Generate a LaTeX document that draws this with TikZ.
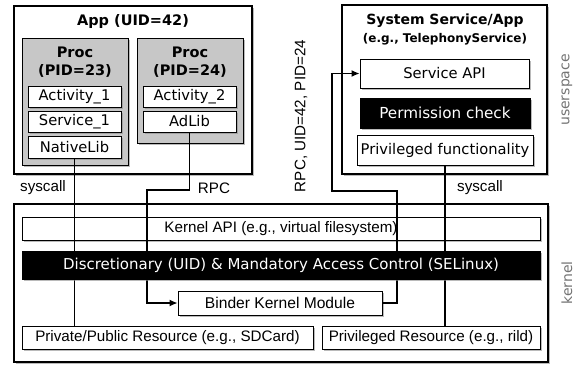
\documentclass[tikz,border=0pt]{standalone}
\usepackage{fontspec}
\setmainfont{DejaVu Sans}
\newfontfamily\arialf{Liberation Sans}
\usetikzlibrary{arrows.meta,shadows}
\begin{document}
\begin{tikzpicture}[x=1pt,y=-1pt,
  box/.style={draw=black, line width=0.8pt, fill=white, inner sep=0pt,
    drop shadow={shadow xshift=1.5pt, shadow yshift=-1.5pt, fill=black!45, opacity=0.6}},
  outer/.style={box, line width=1.3pt},
  procbox/.style={box, fill=black!22},
  blackbox/.style={box, fill=black, text=white},
  lt/.style={font=\fontsize{14.7}{17}\selectfont},
  artxt/.style={font=\arialf\fontsize{15.2}{18}\selectfont},
  ttl/.style={font=\bfseries\fontsize{14.5}{17}\selectfont, inner sep=0pt},
  side/.style={font=\fontsize{14}{17}\selectfont, text=black!55, rotate=90, inner sep=0pt},
  conn/.style={line width=1.4pt},
  arr/.style={conn, -{Latex[length=8pt,width=7pt]}}
]
\useasboundingbox (0,0) rectangle (579,365);
% userspace: app
\node[outer, minimum width=238pt, minimum height=168pt] (app) at (133,90) {};
\node[ttl] (apptitle) at (133,22) {App (UID=42)};
\node[procbox, minimum width=106pt, minimum height=127pt] (p23) at (75,101.5) {};
\node[ttl, align=center, font=\bfseries\fontsize{14.5}{18}\selectfont] (p23t) at (75,62) {Proc\\(PID=23)};
\node[procbox, minimum width=106pt, minimum height=105pt] (p24) at (190,90.5) {};
\node[ttl, align=center, font=\bfseries\fontsize{14.5}{18}\selectfont] (p24t) at (190,62) {Proc\\(PID=24)};
\node[box, lt, minimum width=93pt, minimum height=21pt] (act1) at (74.5,96.5) {Activity\_1};
\node[box, lt, minimum width=93pt, minimum height=21pt] (srv1) at (74.5,121.5) {Service\_1};
\node[box, lt, minimum width=93pt, minimum height=22pt] (nlib) at (74.5,147) {NativeLib};
\node[box, lt, minimum width=93pt, minimum height=21pt] (act2) at (189.5,96.5) {Activity\_2};
\node[box, lt, minimum width=93pt, minimum height=21pt] (adlib) at (189.5,121.5) {AdLib};
% system service
\node[outer, minimum width=205pt, minimum height=169pt] (sys) at (444.5,89.5) {};
\node[ttl, font=\bfseries\fontsize{14}{17}\selectfont] (systitle) at (445,21) {System Service/App};
\node[ttl, font=\bfseries\fontsize{12}{14}\selectfont] (syssub) at (445,39) {(e.g., TelephonyService)};
\node[box, lt, minimum width=169pt, minimum height=29pt] (sapi) at (444.5,73.5) {Service API};
\node[blackbox, lt, font=\fontsize{15.2}{18}\selectfont, minimum width=170pt, minimum height=30pt] (perm) at (445,113) {Permission check};
\node[box, lt, minimum width=176pt, minimum height=30pt] (priv) at (445,150) {Privileged functionality};
% kernel
\node[outer, minimum width=534pt, minimum height=158pt] (kern) at (281,283) {};
\node[box, artxt, minimum width=518pt, minimum height=23pt] (kapi) at (281,228.5) {Kernel API (e.g., virtual filesystem)};
\node[box, artxt, font=\arialf\fontsize{15.6}{18}\selectfont, minimum width=204pt, minimum height=24pt] (binder) at (280,303) {Binder Kernel Module};
\node[box, artxt, minimum width=291pt, minimum height=23pt] (ppr) at (167.5,337.5) {Private/Public Resource (e.g., SDCard)};
\node[box, artxt, minimum width=218pt, minimum height=23pt] (pres) at (431,337.5) {Privileged Resource (e.g., rild)};
% side labels
\node[side] (us) at (567,90) {userspace};
\node[side] (kl) at (567,283) {kernel};
% connector labels
\node[artxt, inner sep=0pt] (l1) at (43,188) {syscall};
\node[artxt, inner sep=0pt] (l2) at (214,188) {RPC};
\node[artxt, inner sep=0pt] (l3) at (480,188) {syscall};
\node[artxt, inner sep=0pt, rotate=90] (l4) at (301,116) {RPC, UID=42, PID=24};
% connectors
\coordinate (r1) at (147,190);
\coordinate (r2) at (397,191);
\coordinate (r3) at (332,191);
\draw[conn] (nlib.south) -- (nlib.south |- ppr.north);
\draw[arr] (adlib.south) |- (r1) |- (binder.west);
\draw[arr] (binder.east) -| (r2) -- (r3) |- (sapi.west);
\draw[conn] (priv.south) -- (priv.south |- pres.north);
% access control layer drawn over the connectors
\node[blackbox, lt, font=\fontsize{15}{18}\selectfont, minimum width=518pt, minimum height=28pt] (dac) at (281,265) {Discretionary (UID) \& Mandatory Access Control (SELinux)};
\end{tikzpicture}
\end{document}
